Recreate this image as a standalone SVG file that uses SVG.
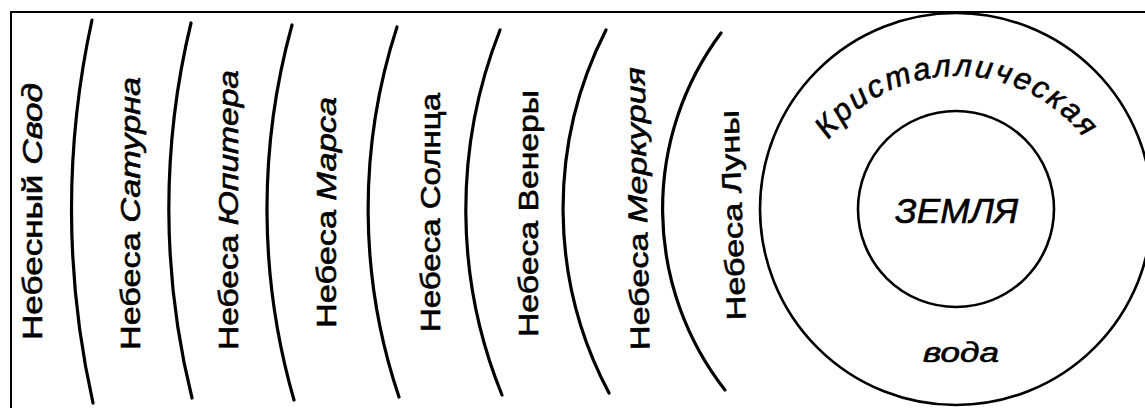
<svg xmlns="http://www.w3.org/2000/svg" width="1145" height="408" viewBox="0 0 1145 408">
  <style>
    .arc { fill: none; stroke: #000; stroke-width: 3.2; stroke-linecap: round; }
    .circ { fill: none; stroke: #000; stroke-width: 2.6; }
    .lbl { font-family: "Liberation Sans", Arial, sans-serif; font-size: 27px; fill: #000; stroke: #000; stroke-width: 0.6; text-anchor: middle; }
    .it { font-style: italic; }
  </style>
  <defs>
    <path id="crystalPath" d="M 796 237 A 161 161 0 0 1 1118 237"/>
  </defs>
  <rect x="0" y="0" width="1145" height="408" fill="#fff"/>
  <path d="M 11 408 V 12 H 1145" fill="none" stroke="#000" stroke-width="2"/>

  <g id="spheres">
    <path class="arc" d="M 92 20 A 884 884 0 0 0 93 403"/>
    <path class="arc" d="M 191 23 A 787 787 0 0 0 192 398"/>
    <path class="arc" d="M 292 25 A 689 689 0 0 0 294 400"/>
    <path class="arc" d="M 397 27 A 588 588 0 0 0 399 397"/>
    <path class="arc" d="M 500 30 A 491 491 0 0 0 502 395"/>
    <path class="arc" d="M 606 30 A 393 393 0 0 0 609 393"/>
    <path class="arc" d="M 721 33 A 294 294 0 0 0 725 390"/>
  </g>

  <g id="firmament">
    <text class="lbl" transform="translate(42 211.5) rotate(-90)" textLength="257" lengthAdjust="spacingAndGlyphs">Небесный <tspan class="it">Свод</tspan></text>
  </g>
  <g id="saturn">
    <text class="lbl" transform="translate(140 213.5) rotate(-90)" textLength="273" lengthAdjust="spacingAndGlyphs">Небеса <tspan class="it">Сатурна</tspan></text>
  </g>
  <g id="jupiter">
    <text class="lbl" transform="translate(238 210) rotate(-90)" textLength="280" lengthAdjust="spacingAndGlyphs">Небеса <tspan class="it">Юпитера</tspan></text>
  </g>
  <g id="mars">
    <text class="lbl" transform="translate(336 212.5) rotate(-90)" textLength="231" lengthAdjust="spacingAndGlyphs">Небеса <tspan class="it">Марса</tspan></text>
  </g>
  <g id="sun">
    <text class="lbl" transform="translate(440 212.5) rotate(-90)" textLength="239" lengthAdjust="spacingAndGlyphs">Небеса Солнца</text>
  </g>
  <g id="venus">
    <text class="lbl" transform="translate(538 213.5) rotate(-90)" textLength="247" lengthAdjust="spacingAndGlyphs">Небеса Венеры</text>
  </g>
  <g id="mercury">
    <text class="lbl" transform="translate(647 208.5) rotate(-91)" textLength="283" lengthAdjust="spacingAndGlyphs">Небеса <tspan class="it">Меркурия</tspan></text>
  </g>
  <g id="moon">
    <text class="lbl" transform="translate(742 215) rotate(-92)" textLength="210" lengthAdjust="spacingAndGlyphs">Небеса Луны</text>
  </g>

  <g id="crystal-water">
    <circle class="circ" cx="956" cy="209" r="196"/>
    <text class="lbl it" style="font-size:31px; letter-spacing:2.5px"><textPath href="#crystalPath" startOffset="50%">Кристаллическая</textPath></text>
    <text class="lbl it" x="961" y="362" textLength="76" lengthAdjust="spacingAndGlyphs">вода</text>
  </g>

  <g id="earth">
    <circle class="circ" cx="956" cy="209" r="98"/>
    <text class="lbl it" x="956.5" y="223" style="font-size:35px" textLength="123" lengthAdjust="spacingAndGlyphs">ЗЕМЛЯ</text>
  </g>
</svg>
